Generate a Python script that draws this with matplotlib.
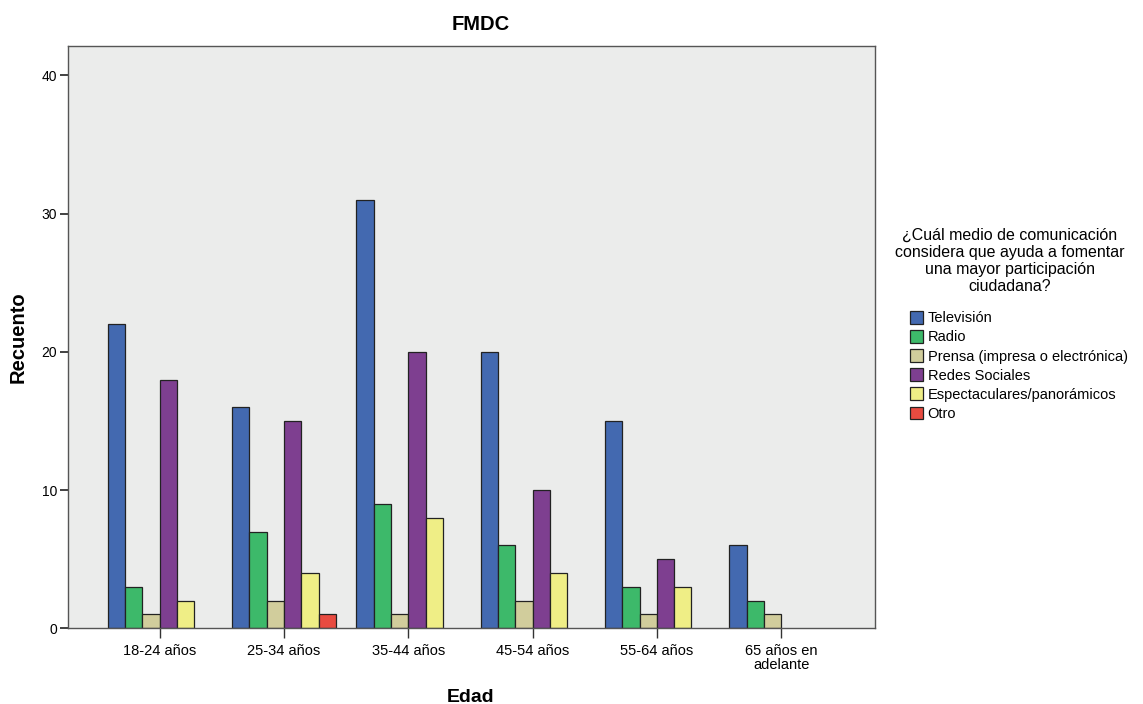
import matplotlib
matplotlib.use("Agg")
import matplotlib.pyplot as plt
import numpy as np

categories = ["18-24 años", "25-34 años", "35-44 años", "45-54 años", "55-64 años", "65 años en\nadelante"]
series_names = ["Televisión", "Radio", "Prensa (impresa o electrónica)", "Redes Sociales",
                "Espectaculares/panorámicos", "Otro"]
television = [22, 16, 31, 20, 15, 6]
radio = [3, 7, 9, 6, 3, 2]
prensa = [1, 2, 1, 2, 1, 1]
redes = [18, 15, 20, 10, 5, 0]
espectaculares = [2, 4, 8, 4, 3, 0]
otro = [0, 1, 0, 0, 0, 0]
colors = ["#4369B0", "#3DB96A", "#D1CD9C", "#7E3F90", "#EFEE86", "#E84B40"]
yticks = [0, 10, 20, 30, 40]

plt.rcParams['font.family'] = ['Liberation Sans', 'DejaVu Sans']

fig = plt.figure(figsize=(11.43, 7.04), dpi=100)
ax = fig.add_axes([0.0595, 0.1075, 0.7063, 0.8275])
ax.set_facecolor("#EBECEB")

series = [television, radio, prensa, redes, espectaculares, otro]
x = np.arange(len(categories))
w = 0.139
handles = []
for i, (vals, name, c) in enumerate(zip(series, series_names, colors)):
    offs = (i - 2.5) * w
    edges = ["#222222" if v > 0 else "none" for v in vals]
    b = ax.bar(x + offs, vals, width=w, color=c, edgecolor=edges, linewidth=0.9, label=name)
    handles.append(b)

ax.set_xlim(-0.738, 5.757)
ax.set_ylim(0, 42.15)
ax.set_yticks(yticks)
ax.set_xticks(x)
ax.set_xticklabels(categories, fontsize=10.5, linespacing=1.0)
ax.tick_params(axis='y', labelsize=10, length=6, width=1.3, color="#333333", pad=2)
ax.tick_params(axis='x', length=7.5, width=1, color="#333333")
for s in ax.spines.values():
    s.set_color("#555555")
    s.set_linewidth(1)

fig.text(481 / 1143, 1 - 24 / 704, "FMDC", fontsize=14.5, fontweight="bold", ha="center", va="center")
fig.text(18 / 1143, 1 - 337 / 704, "Recuento", fontsize=14.5, fontweight="bold",
         ha="center", va="center", rotation=90)
fig.text(471 / 1143, 1 - 697 / 704, "Edad", fontsize=14, fontweight="bold", ha="center", va="center")

fig.text(1010 / 1143, 1 - 228 / 704,
         "¿Cuál medio de comunicación\nconsidera que ayuda a fomentar\nuna mayor participación\nciudadana?",
         ha="center", va="top", fontsize=11.5, linespacing=1.17)

leg = fig.legend(handles=[h[0] for h in handles], labels=series_names, loc="upper left",
                 bbox_to_anchor=(910 / 1143, 1 - 311 / 704), frameon=False,
                 fontsize=10.5, handlelength=0.9, handleheight=0.95, handletextpad=0.3,
                 labelspacing=0.33, borderaxespad=0, borderpad=0)
for p in leg.get_patches():
    p.set_edgecolor("#222222")

fig.savefig("out.png", dpi=100)
